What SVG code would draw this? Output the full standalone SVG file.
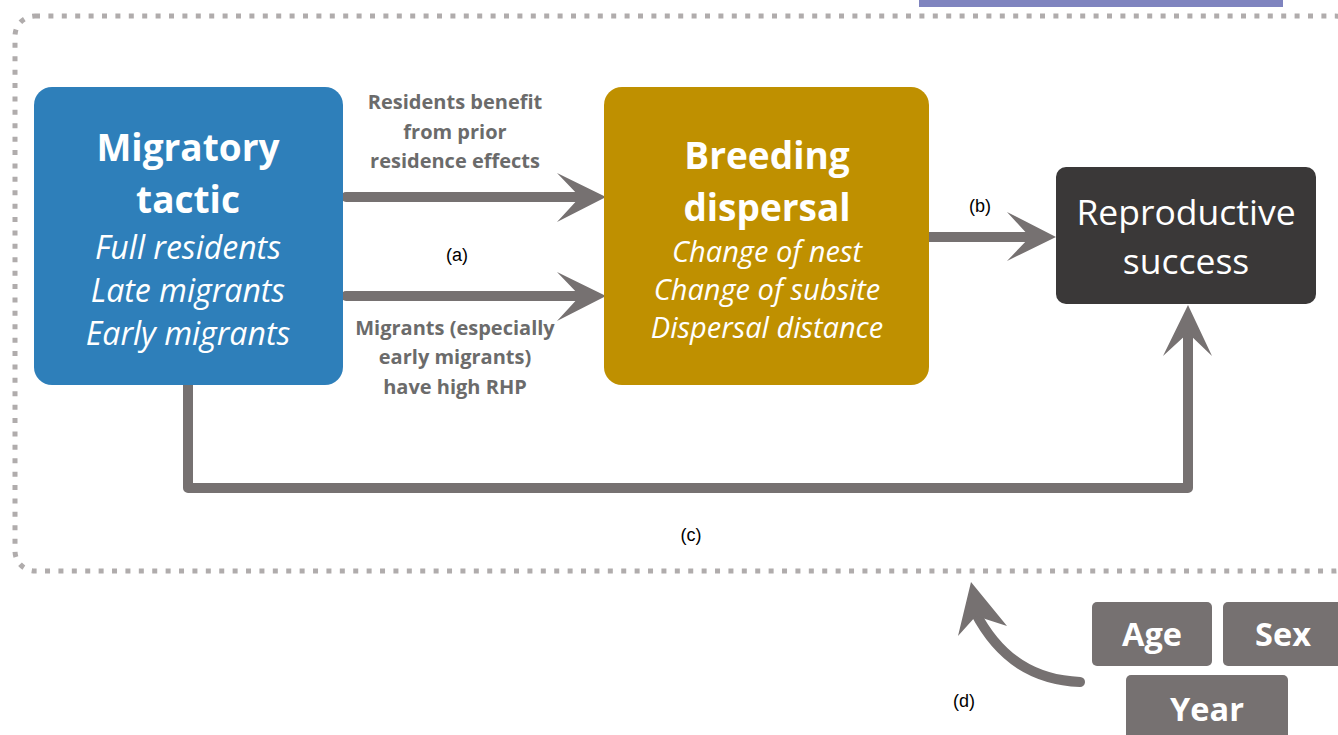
<svg xmlns="http://www.w3.org/2000/svg" width="1338" height="735" viewBox="0 0 1338 735">
<style>
.lbl{font-family:"Open Sans","Liberation Sans",sans-serif;font-weight:bold;font-size:20px;fill:#6b6b6b;text-anchor:middle}
.tag{font-family:"Liberation Sans",Arial,sans-serif;font-size:18px;fill:#000;text-anchor:middle}
.hd{font-family:"Open Sans","Liberation Sans",sans-serif;font-weight:bold;font-size:37px;fill:#fff;text-anchor:middle}
.it{font-family:"Open Sans","Liberation Sans",sans-serif;font-style:italic;font-size:29px;fill:#fff;text-anchor:middle}
.itb{font-family:"Open Sans","Liberation Sans",sans-serif;font-style:italic;font-size:32px;fill:#fff;text-anchor:middle}
.rg{font-family:"Open Sans","Liberation Sans",sans-serif;font-size:35.5px;fill:#fff;text-anchor:middle}
.fac{font-family:"Open Sans","Liberation Sans",sans-serif;font-weight:bold;font-size:32.5px;fill:#fff;text-anchor:middle}
.ln{fill:none;stroke:#767171;stroke-width:10;stroke-linecap:round;stroke-linejoin:round}
.ah{fill:#767171}
</style>
<rect x="0" y="0" width="1338" height="735" fill="#fff"/>
<rect x="919" y="-2" width="364" height="9" fill="#7f84bf"/>
<rect x="15" y="16" width="1340" height="555" rx="20" fill="none" stroke="#b0acac" stroke-width="5" stroke-dasharray="5 8.4"/>

<g id="connectors">
<line class="ln" x1="346" y1="197" x2="585" y2="197"/>
<polygon class="ah" points="606,197 557,173 580,197 557,222"/>
<line class="ln" x1="346" y1="296" x2="585" y2="296"/>
<polygon class="ah" points="606,296 557,272 580,296 557,321"/>
<line class="ln" x1="929" y1="237" x2="1035" y2="237"/>
<polygon class="ah" points="1056,237 1007,212 1030,237 1007,261"/>
<polyline class="ln" points="188,385 188,488 1188,488 1188,330"/>
<polygon class="ah" points="1188,305 1163,356 1188,333 1212,356"/>
<path class="ln" d="M1080,682 C1035,680 1000,660 975,612"/>
<polygon class="ah" points="971,582 958,636 976,616 1007,626"/>
<text class="tag" x="457" y="261">(a)</text>
<text class="tag" x="980" y="212">(b)</text>
<text class="tag" x="691" y="541">(c)</text>
<text class="tag" x="964" y="707">(d)</text>
<text class="lbl" x="455" y="109">Residents benefit</text>
<text class="lbl" x="455" y="139">from prior</text>
<text class="lbl" x="455" y="168">residence effects</text>
<text class="lbl" x="455" y="335">Migrants (especially</text>
<text class="lbl" x="455" y="364">early migrants)</text>
<text class="lbl" x="455" y="394">have high RHP</text>
</g>

<g id="migratory-tactic">
<rect x="34" y="87" width="309" height="298" rx="18" fill="#2e7fba"/>
<text class="hd" x="188" y="161">Migratory</text>
<text class="hd" x="188" y="213">tactic</text>
<text class="itb" x="188" y="259">Full residents</text>
<text class="itb" x="188" y="302">Late migrants</text>
<text class="itb" x="188" y="345">Early migrants</text>
</g>

<g id="breeding-dispersal">
<rect x="604" y="87" width="325" height="298" rx="18" fill="#bf9000"/>
<text class="hd" x="767" y="169">Breeding</text>
<text class="hd" x="767" y="221">dispersal</text>
<text class="it" x="767" y="262">Change of nest</text>
<text class="it" x="767" y="300">Change of subsite</text>
<text class="it" x="767" y="338">Dispersal distance</text>
</g>

<g id="reproductive-success">
<rect x="1056" y="167" width="260" height="137" rx="10" fill="#3a3838"/>
<text class="rg" x="1186" y="225">Reproductive</text>
<text class="rg" x="1186" y="274">success</text>
</g>

<g id="age">
<rect x="1092" y="602" width="120" height="64" rx="5" fill="#767171"/>
<text class="fac" x="1152" y="646">Age</text>
</g>
<g id="sex">
<rect x="1223" y="602" width="130" height="64" rx="5" fill="#767171"/>
<text class="fac" x="1283" y="646">Sex</text>
</g>
<g id="year">
<rect x="1126" y="675" width="162" height="70" rx="5" fill="#767171"/>
<text class="fac" x="1207" y="721">Year</text>
</g>
</svg>
